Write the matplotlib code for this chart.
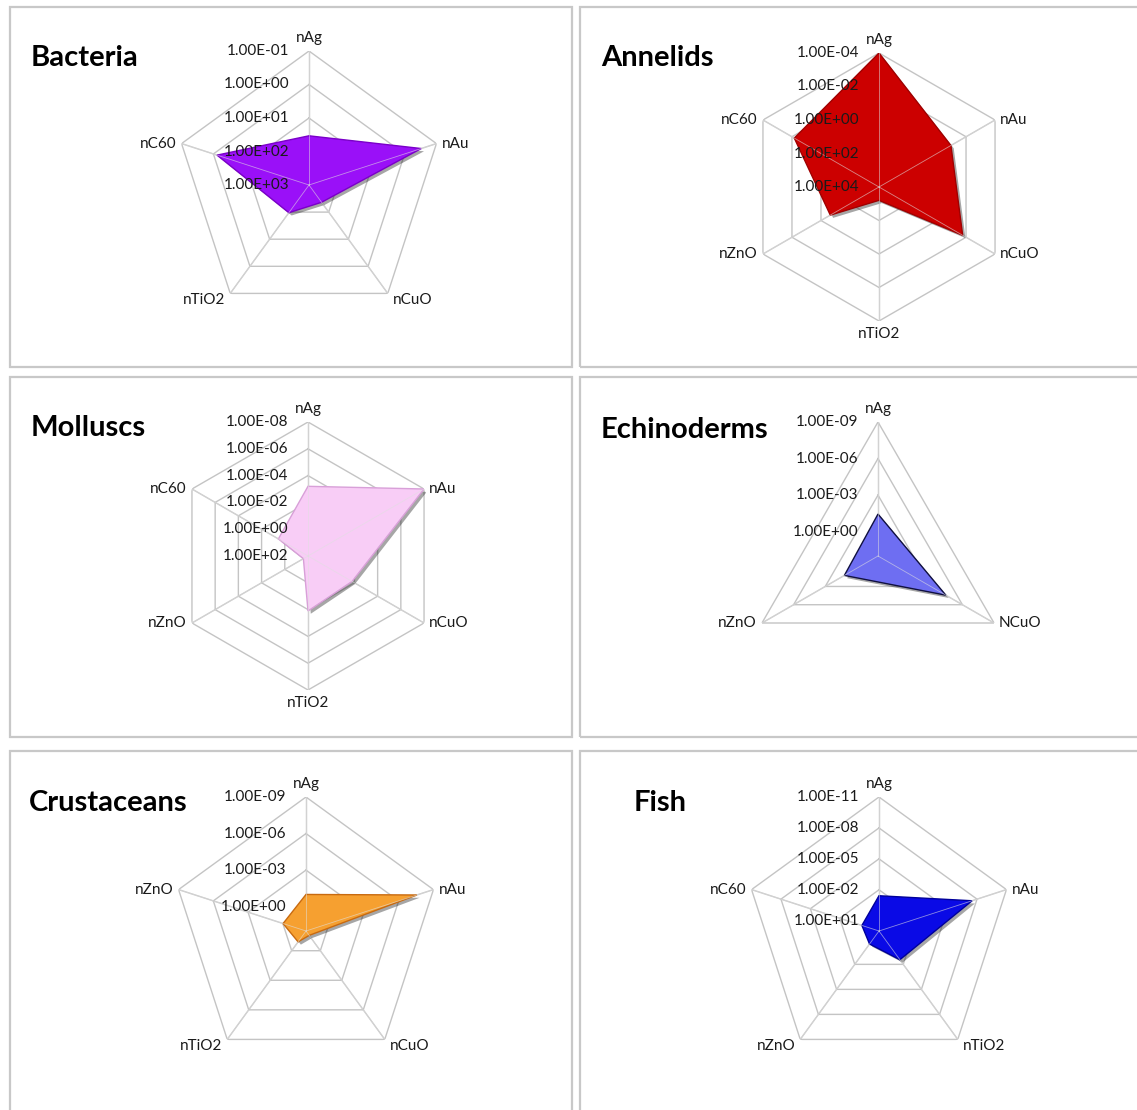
import numpy as np
import matplotlib
matplotlib.use('Agg')
import matplotlib.pyplot as plt
import matplotlib.patheffects as pe
from matplotlib.patches import Rectangle

plt.rcParams['font.family'] = ['Lato', 'DejaVu Sans']

W, H = 1137, 1110

# values (radial axis is log, reversed: smaller = further out)
bacteria_cats = ['nAg', 'nAu', 'nCuO', 'nTiO2', 'nC60']
bacteria_vals = [34, 0.30, 230, 95, 1.3]
bacteria_ticks = [1e3, 1e2, 1e1, 1e0, 1e-1]

annelids_cats = ['nAg', 'nAu', 'nCuO', 'nTiO2', 'nZnO', 'nC60']
annelids_vals = [1e-4, 0.11, 0.017, 1600, 4.4, 0.0145]
annelids_ticks = [1e4, 1e2, 1e0, 1e-2, 1e-4]

molluscs_cats = ['nAg', 'nAu', 'nCuO', 'nTiO2', 'nZnO', 'nC60']
molluscs_vals = [6.3e-4, 1e-8, 0.016, 0.0079, 40, 0.28]
molluscs_ticks = [1e2, 1e0, 1e-2, 1e-4, 1e-6, 1e-8]

echino_cats = ['nAg', 'NCuO', 'nZnO']
echino_vals = [0.036, 3.7e-5, 0.065]
echino_ticks = [1e0, 1e-3, 1e-6, 1e-9]

crust_cats = ['nAg', 'nAu', 'nCuO', 'nTiO2', 'nZnO']
crust_vals = [0.1, 2.7e-8, 36, 7.9, 1.05]
crust_ticks = [1e0, 1e-3, 1e-6, 1e-9]

fish_cats = ['nAg', 'nAu', 'nTiO2', 'nZnO', 'nC60']
fish_vals = [0.038, 3.2e-8, 0.036, 2.75, 1.8]
fish_ticks = [1e1, 1e-2, 1e-5, 1e-8, 1e-11]

# title, cats, vals, ticks, center value, face, edge, title pos, radar center, box
panels = [
    ('Bacteria', bacteria_cats, bacteria_vals, bacteria_ticks, 1e3,
     '#9a10f8', '#7a00c8', (31, 58), (309, 185), (10, 7, 572, 367)),
    ('Annelids', annelids_cats, annelids_vals, annelids_ticks, 1e4,
     '#cc0000', '#a00000', (601, 58), (879, 187), (580, 7, 1145, 367)),
    ('Molluscs', molluscs_cats, molluscs_vals, molluscs_ticks, 1e2,
     '#f8cdf6', '#d8a0d8', (31, 428), (308, 556), (10, 377, 572, 737)),
    ('Echinoderms', echino_cats, echino_vals, echino_ticks, 1e2,
     '#6e6ef2', '#101040', (601, 430), (878, 556), (580, 377, 1145, 737)),
    ('Crustaceans', crust_cats, crust_vals, crust_ticks, 1e2,
     '#f6a030', '#c86a10', (29, 803), (306, 931), (10, 751, 572, 1130)),
    ('Fish', fish_cats, fish_vals, fish_ticks, 1e2,
     '#0a0ae6', '#00009a', (634, 803), (879, 931), (580, 751, 1145, 1130)),
]

R = 134
grid_col = '#c4c4c4'

fig = plt.figure(figsize=(W / 100, H / 100), dpi=100)
fig.patch.set_facecolor('white')

for title, cats, vals, ticks, center, face, edge, tpos, cpos, box in panels:
    x0, y0, x1, y1 = box
    fig.add_artist(Rectangle((x0 / W, 1 - y1 / H), (x1 - x0) / W, (y1 - y0) / H,
                             transform=fig.transFigure, fill=False,
                             ec='#c8c8c8', lw=1.6))
    fig.text(tpos[0] / W, 1 - tpos[1] / H, title, fontsize=21,
             fontweight='bold', ha='left', va='center')

    cx, cy = cpos
    ax = fig.add_axes([(cx - R) / W, 1 - (cy + R) / H, 2 * R / W, 2 * R / H],
                      projection='polar')
    ax.set_theta_zero_location('N')
    ax.set_theta_direction(-1)
    ax.set_rscale('log')

    n = len(cats)
    theta = np.linspace(0, 2 * np.pi, n, endpoint=False)
    theta_c = np.append(theta, theta[0])
    outer = ticks[-1]

    # polygon grid rings and spokes
    for t in ticks:
        if t == center:
            continue
        ax.plot(theta_c, [t] * (n + 1), color=grid_col, lw=1.0, zorder=1)
    for th in theta:
        ax.plot([th, th], [center, outer], color=grid_col, lw=1.0, zorder=1)

    v = np.append(vals, vals[0])
    ax.fill(theta_c, v, facecolor=face, edgecolor=edge, lw=1.0, zorder=2,
            path_effects=[pe.SimplePatchShadow(offset=(2, -2), shadow_rgbFace='k', alpha=0.35),
                          pe.Normal()])
    ax.plot(theta, vals, lw=0)  # keep lines list simple
    # spokes visible through fill edge region
    for th in theta:
        ax.plot([th, th], [center, outer], color='#e0e0e0', lw=0.6, alpha=0.6, zorder=3)

    ax.set_rlim(center, outer)
    ax.set_axis_off()

    # radial tick labels on the top axis
    for t in ticks:
        ax.annotate('{:.2E}'.format(t), xy=(0, t), xytext=(-20, 0),
                    textcoords='offset pixels', ha='right', va='center',
                    fontsize=11, color='#1a1a1a', zorder=4)

    # category labels
    for th, cat in zip(theta, cats):
        dx, dy = np.sin(th), np.cos(th)
        if dx > 0.3:
            ha, ox = 'left', 5
        elif dx < -0.3:
            ha, ox = 'right', -5
        else:
            ha, ox = 'center', 0
        if dy > 0.9:
            va, oy = 'bottom', 6
        elif dy < -0.9:
            va, oy = 'top', -6
        elif dy < -0.7:
            va, oy = 'center', -7
        else:
            va, oy = 'center', 0
        ax.annotate(cat, xy=(th, outer), xytext=(ox, oy), textcoords='offset pixels',
                    ha=ha, va=va, fontsize=11, color='#1a1a1a')

fig.savefig('out.png', dpi=100, facecolor='white')
